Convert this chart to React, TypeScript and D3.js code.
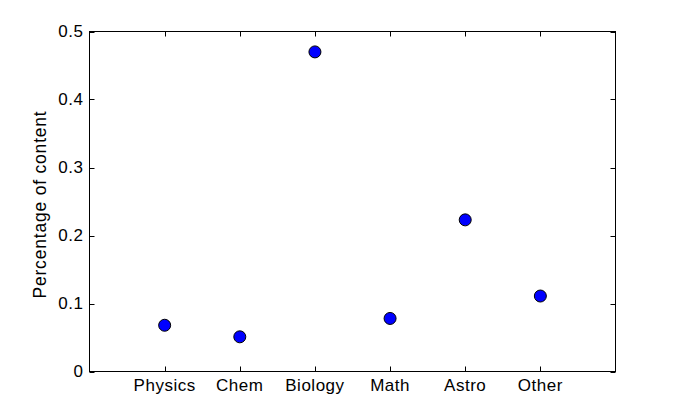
import React from "react";
import * as d3 from "d3";

const categories = ["Physics", "Chem", "Biology", "Math", "Astro", "Other"];
const values = [0.068, 0.051, 0.47, 0.078, 0.223, 0.111];
const yTicks = [0, 0.1, 0.2, 0.3, 0.4, 0.5];

export default function App() {
  const W = 681, H = 417;
  const left = 89.5, right = 615.5, top = 31.5, bottom = 371.5;
  const x = d3.scaleLinear().domain([0, 7]).range([left, right]);
  const y = d3.scaleLinear().domain([0, 0.5]).range([bottom, top]);
  const font = "Liberation Sans, Arial, sans-serif";
  return (
    <svg width={W} height={H} style={{ position: "absolute", left: 0, top: 0, background: "#fff" }}>
      <rect x={0} y={0} width={W} height={H} fill="#fff" />
      <rect x={left} y={top} width={right - left} height={bottom - top} fill="#fff" stroke="#000" strokeWidth={1} />
      {yTicks.map((t) => (
        <g key={t}>
          <line x1={left} x2={left + 5} y1={Math.round(y(t)) + 0.5} y2={Math.round(y(t)) + 0.5} stroke="#000" />
          <line x1={right} x2={right - 5} y1={Math.round(y(t)) + 0.5} y2={Math.round(y(t)) + 0.5} stroke="#000" />
          <text x={left - 6} y={y(t)} dy="0.35em" textAnchor="end" fontFamily={font} fontSize={17} letterSpacing={0.5} fill="#000">
            {t === 0 ? "0" : String(t)}
          </text>
        </g>
      ))}
      {categories.map((c, i) => (
        <g key={c}>
          <line x1={Math.round(x(i + 1)) + 0.5} x2={Math.round(x(i + 1)) + 0.5} y1={bottom} y2={bottom - 5} stroke="#000" />
          <line x1={Math.round(x(i + 1)) + 0.5} x2={Math.round(x(i + 1)) + 0.5} y1={top} y2={top + 5} stroke="#000" />
          <text x={x(i + 1)} y={391} textAnchor="middle" fontFamily={font} fontSize={17} letterSpacing={0.5} fill="#000">
            {c}
          </text>
        </g>
      ))}
      {values.map((v, i) => (
        <circle key={i} cx={x(i + 1)} cy={y(v)} r={6} fill="#0000ff" stroke="#000" strokeWidth={1} />
      ))}
      <text
        transform={`translate(46, ${(top + bottom) / 2 + 3}) rotate(-90)`}
        textAnchor="middle"
        fontFamily={font}
        fontSize={17.5}
        letterSpacing={0.8}
        fill="#000"
      >
        Percentage of content
      </text>
    </svg>
  );
}
